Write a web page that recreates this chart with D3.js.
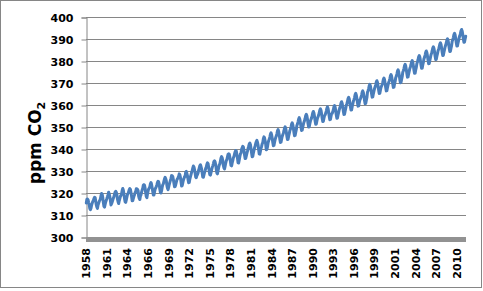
<!DOCTYPE html>
<html>
<head>
<meta charset="utf-8">
<script src="https://cdn.jsdelivr.net/npm/d3@7"></script>
<style>
  body { margin: 0; background: #fff; }
  text { font-family: "DejaVu Sans", Verdana, sans-serif; font-weight: bold; fill: #000; }
</style>
</head>
<body>
<svg id="chart" width="483" height="291"></svg>
<script>
// monthly CO2 at Mauna Loa (ppm), Mar 1958 .. Dec 2011
var co2 = [
  315.71, 317.45, 317.50, 317.10, 315.86, 314.93, 313.20, 312.66, 313.33, 314.67, // 1958 (from Mar)
  315.62, 316.38, 316.71, 317.72, 318.29, 318.15, 316.54, 314.80, 313.84, 313.26, 314.80, 315.58,
  316.43, 316.97, 317.58, 319.02, 320.03, 319.59, 318.18, 315.91, 314.16, 313.83, 315.00, 316.19,
  316.93, 317.70, 318.54, 319.48, 320.58, 319.77, 318.57, 316.79, 314.80, 315.38, 316.10, 317.01,
  317.94, 318.56, 319.68, 320.63, 321.01, 320.55, 319.58, 317.40, 316.26, 315.42, 316.69, 317.69,
  318.74, 319.08, 319.86, 321.39, 322.25, 321.47, 319.74, 317.77, 316.21, 315.99, 317.12, 318.31,
  319.57, 320.07, 320.73, 321.77, 322.25, 321.89, 320.44, 318.70, 316.70, 316.79, 317.79, 318.71,
  319.44, 320.44, 320.89, 322.13, 322.16, 321.87, 321.39, 318.81, 317.81, 317.30, 318.87, 319.42,
  320.62, 321.59, 322.39, 323.87, 324.01, 323.75, 322.39, 320.37, 318.64, 318.10, 319.79, 321.08,
  322.07, 322.50, 323.04, 324.42, 325.00, 324.09, 322.55, 320.92, 319.31, 319.31, 320.72, 321.96,
  322.57, 323.15, 323.89, 325.02, 325.57, 325.36, 324.14, 322.03, 320.41, 320.25, 321.31, 322.84,
  324.00, 324.42, 325.64, 326.66, 327.34, 326.76, 325.88, 323.67, 322.38, 321.78, 322.85, 324.11,
  325.03, 325.99, 326.87, 328.13, 328.07, 327.66, 326.35, 324.69, 323.10, 323.16, 323.98, 325.13, // 1970
  326.17, 326.68, 327.18, 327.78, 328.92, 328.57, 327.34, 325.46, 323.36, 323.57, 324.80, 326.01,
  326.77, 327.63, 327.75, 329.72, 330.07, 329.09, 328.05, 326.32, 324.93, 325.06, 326.50, 327.55,
  328.54, 329.56, 330.30, 331.50, 332.48, 332.07, 330.87, 329.31, 327.51, 327.18, 328.16, 328.64,
  329.35, 330.71, 331.48, 332.65, 333.09, 332.25, 331.18, 329.40, 327.44, 327.37, 328.46, 329.58,
  330.40, 331.40, 332.04, 333.31, 333.96, 333.59, 331.91, 330.06, 328.56, 328.34, 329.49, 330.76,
  331.75, 332.56, 333.50, 334.58, 334.87, 334.34, 333.05, 330.94, 329.30, 328.94, 330.31, 331.68,
  332.93, 333.42, 334.70, 336.07, 336.74, 336.27, 334.93, 332.75, 331.58, 331.16, 332.40, 333.85,
  334.97, 335.39, 336.64, 337.76, 338.01, 337.89, 336.54, 334.68, 332.76, 332.54, 333.92, 334.95,
  336.23, 336.76, 337.96, 338.89, 339.47, 339.29, 337.73, 336.09, 333.91, 333.86, 335.29, 336.73,
  338.01, 338.36, 340.08, 340.77, 341.46, 341.17, 339.56, 337.60, 335.88, 336.01, 337.10, 338.21, // 1980
  339.24, 340.48, 341.38, 342.51, 342.91, 342.25, 340.49, 338.43, 336.69, 336.85, 338.36, 339.61,
  340.75, 341.61, 342.70, 343.56, 344.13, 343.35, 342.06, 339.82, 337.97, 337.86, 339.26, 340.49,
  341.38, 342.52, 343.10, 344.94, 345.75, 345.32, 343.99, 342.39, 339.86, 339.99, 341.16, 342.99,
  343.95, 344.65, 345.65, 346.95, 347.55, 346.85, 345.25, 343.25, 341.75, 341.85, 343.25, 344.45,
  345.42, 346.12, 347.12, 348.42, 349.02, 348.32, 346.72, 344.72, 343.22, 343.32, 344.72, 345.92,
  346.72, 347.42, 348.42, 349.72, 350.32, 349.62, 348.02, 346.02, 344.52, 344.62, 346.02, 347.22,
  348.49, 349.19, 350.19, 351.49, 352.09, 351.39, 349.79, 347.79, 346.29, 346.39, 347.79, 348.99,
  350.87, 351.57, 352.57, 353.87, 354.47, 353.77, 352.17, 350.17, 348.67, 348.77, 350.17, 351.37,
  352.42, 353.12, 354.12, 355.42, 356.02, 355.32, 353.72, 351.72, 350.22, 350.32, 351.72, 352.92,
  353.69, 354.39, 355.39, 356.69, 357.29, 356.59, 354.99, 352.99, 351.49, 351.59, 352.99, 354.19, // 1990
  354.91, 355.61, 356.61, 357.91, 358.51, 357.81, 356.21, 354.21, 352.71, 352.81, 354.21, 355.41,
  355.75, 356.45, 357.45, 358.75, 359.35, 358.65, 357.05, 355.05, 353.55, 353.65, 355.05, 356.25,
  356.40, 357.10, 358.10, 359.40, 360.00, 359.30, 357.70, 355.70, 354.20, 354.30, 355.70, 356.90,
  358.13, 358.83, 359.83, 361.13, 361.73, 361.03, 359.43, 357.43, 355.93, 356.03, 357.43, 358.63,
  360.12, 360.82, 361.82, 363.12, 363.72, 363.02, 361.42, 359.42, 357.92, 358.02, 359.42, 360.62,
  361.91, 362.61, 363.61, 364.91, 365.51, 364.81, 363.21, 361.21, 359.71, 359.81, 361.21, 362.41,
  363.03, 363.73, 364.73, 366.03, 366.63, 365.93, 364.33, 362.33, 360.83, 360.93, 362.33, 363.53,
  366.00, 366.70, 367.70, 369.00, 369.60, 368.90, 367.30, 365.30, 363.80, 363.90, 365.30, 366.50,
  367.68, 368.38, 369.38, 370.68, 371.28, 370.58, 368.98, 366.98, 365.48, 365.58, 366.98, 368.18,
  368.85, 369.55, 370.55, 371.85, 372.45, 371.75, 370.15, 368.15, 366.65, 366.75, 368.15, 369.35, // 2000
  370.44, 371.14, 372.14, 373.44, 374.04, 373.34, 371.74, 369.74, 368.24, 368.34, 369.74, 370.94,
  372.58, 373.28, 374.28, 375.58, 376.18, 375.48, 373.88, 371.88, 370.38, 370.48, 371.88, 373.08,
  375.10, 375.80, 376.80, 378.10, 378.70, 378.00, 376.40, 374.40, 372.90, 373.00, 374.40, 375.60,
  376.82, 377.52, 378.52, 379.82, 380.42, 379.72, 378.12, 376.12, 374.62, 374.72, 376.12, 377.32,
  379.10, 379.80, 380.80, 382.10, 382.70, 382.00, 380.40, 378.40, 376.90, 377.00, 378.40, 379.60,
  381.20, 381.90, 382.90, 384.20, 384.80, 384.10, 382.50, 380.50, 379.00, 379.10, 380.50, 381.70,
  383.09, 383.79, 384.79, 386.09, 386.69, 385.99, 384.39, 382.39, 380.89, 380.99, 382.39, 383.59,
  384.90, 385.60, 386.60, 387.90, 388.50, 387.80, 386.20, 384.20, 382.70, 382.80, 384.20, 385.40,
  386.73, 387.43, 388.43, 389.73, 390.33, 389.63, 388.03, 386.03, 384.53, 384.63, 386.03, 387.23,
  389.20, 389.90, 390.90, 392.20, 392.80, 392.10, 390.50, 388.50, 387.00, 387.10, 388.50, 389.70, // 2010
  390.95, 391.65, 392.65, 393.95, 394.55, 393.85, 392.25, 390.25, 388.75, 388.85, 390.25, 391.45
]

// one category per month
var months = d3.timeMonth.range(new Date(1958, 2, 1), new Date(2012, 0, 1))

var yTicks = [300, 310, 320, 330, 340, 350, 360, 370, 380, 390, 400]
var xLabels = ['1958', '1961', '1964', '1966', '1969', '1972', '1975', '1978', '1981', '1984',
               '1987', '1990', '1993', '1996', '1999', '2001', '2004', '2007', '2010']
var labelEvery = 35  // excel shows every 35th category

var svg = d3.select('#chart')

// outer chart border
svg.append('rect')
  .attr('x', 0.5).attr('y', 0.5).attr('width', 481).attr('height', 287)
  .attr('fill', '#fff').attr('stroke', '#868686')

var x = d3.scalePoint()
  .domain(d3.range(months.length))
  .range([86, 466])
  .padding(0.5)

var y = d3.scaleLinear()
  .domain([300, 400])
  .range([237.5, 17.5])

// gridlines
svg.append('g')
  .selectAll('line')
  .data(yTicks.slice(1))
  .join('line')
  .attr('x1', 86).attr('x2', 466)
  .attr('y1', d => y(d)).attr('y2', d => y(d))
  .attr('stroke', '#868686')

// y axis
var yAxis = svg.append('g')
  .attr('transform', 'translate(86.5,0)')
  .call(d3.axisLeft(y).tickValues(yTicks).tickSize(5).tickPadding(8))
yAxis.select('.domain').attr('stroke', '#868686')
yAxis.selectAll('.tick line').attr('stroke', '#868686')
yAxis.selectAll('.tick text')
  .style('font-size', '11px')
  .style('font-family', '"DejaVu Sans", Verdana, sans-serif')
  .style('font-weight', 'bold')
  .attr('fill', '#000')

// the grey category axis
svg.append('line')
  .attr('x1', 86).attr('x2', 466)
  .attr('y1', 239.5).attr('y2', 239.5)
  .attr('stroke', '#929292').attr('stroke-width', 5)

// x labels
svg.append('g')
  .selectAll('text')
  .data(xLabels)
  .join('text')
  .attr('transform', (d, i) => 'translate(' + x(i * labelEvery) + ',248) rotate(-90)')
  .attr('text-anchor', 'end')
  .attr('dy', '0.36em')
  .style('font-size', '11px')
  .text(d => d)

// series
var line = d3.line()
  .x((d, i) => x(i))
  .y(d => y(d))

svg.append('path')
  .datum(co2)
  .attr('d', line)
  .attr('fill', 'none')
  .attr('stroke', '#4A7EBB')
  .attr('stroke-width', 3)
  .attr('stroke-linejoin', 'round')
  .attr('stroke-linecap', 'round')

// axis title
var title = svg.append('text')
  .attr('transform', 'translate(41,143) rotate(-90)')
  .attr('text-anchor', 'middle')
  .style('font-size', '17px')
title.append('tspan').text('ppm CO')
title.append('tspan').attr('dy', 4).style('font-size', '11px').text('2')
</script>
</body>
</html>
